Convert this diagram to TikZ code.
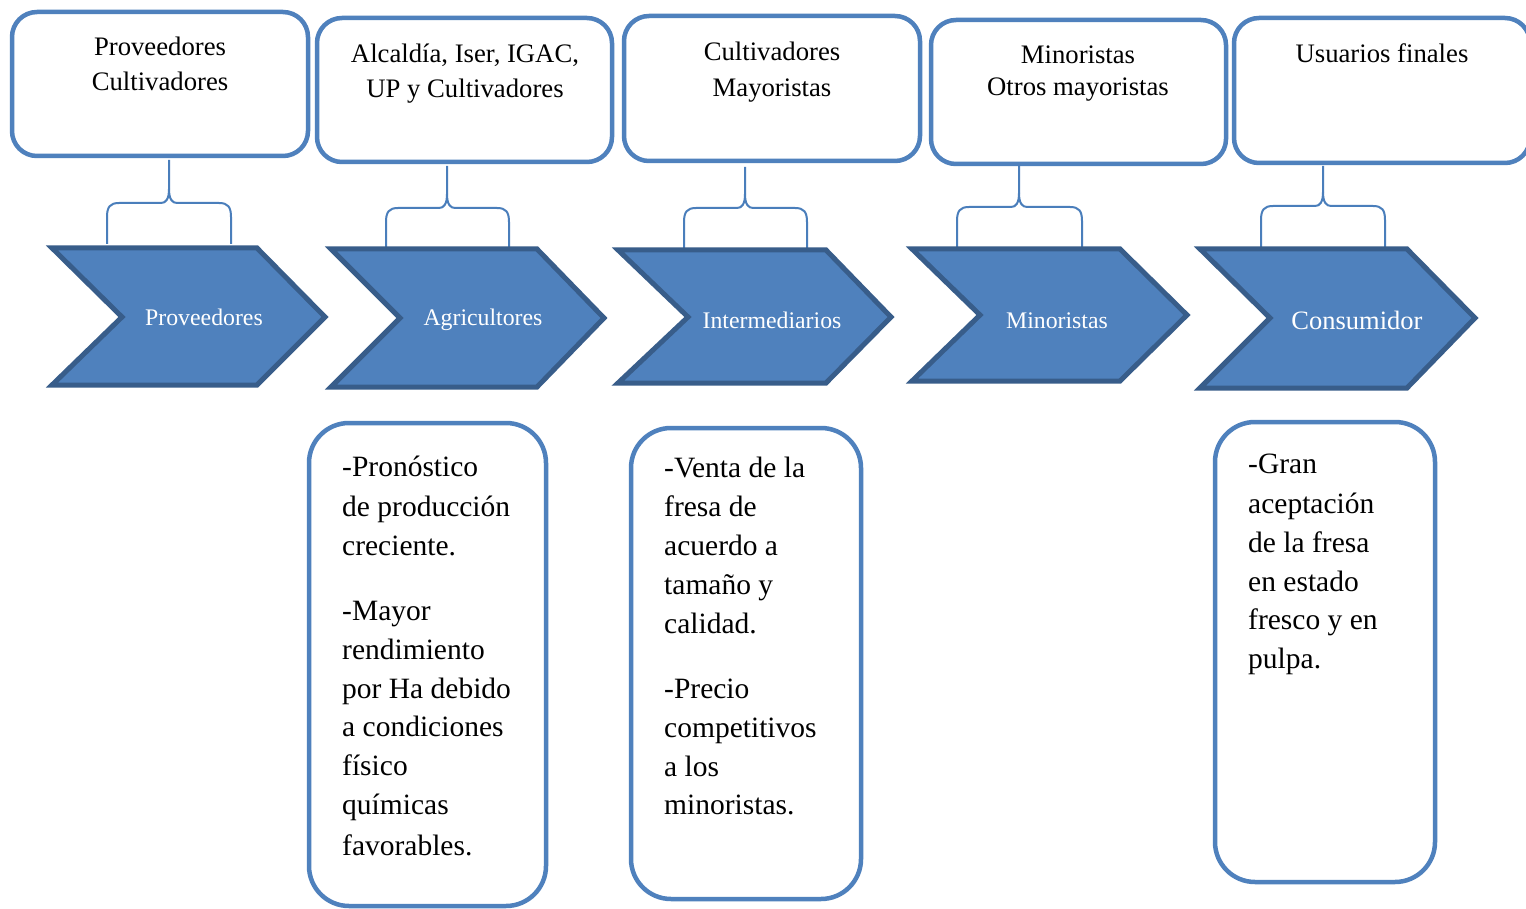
\documentclass[tikz,border=0pt]{standalone}
\usepackage{fontspec}
\setmainfont{Liberation Serif}
\definecolor{boxblue}{RGB}{79,129,189}
\definecolor{chevfill}{RGB}{79,129,189}
\definecolor{chevdark}{RGB}{56,93,138}
\definecolor{braceblue}{RGB}{74,126,187}
\newcommand\ftop{\fontsize{26.7}{35}\selectfont}
\newcommand\fchev{\fontsize{23.8}{28}\selectfont}
\newcommand\fbot{\fontsize{29.5}{39}\selectfont}
\newcommand\mybrace[6]{%
  \draw[bracel] (#4,#6) -- (#4,{#3+14}) .. controls (#4,{#3+4}) and ({#4+3},#3) .. ({#4+12},#3)
    -- ({#1-8},#3) .. controls ({#1-3},#3) and (#1,{#3-4}) .. (#1,{#3-14}) -- (#1,#2);
  \draw[bracel] (#5,#6) -- (#5,{#3+14}) .. controls (#5,{#3+4}) and ({#5-3},#3) .. ({#5-12},#3)
    -- ({#1+8},#3) .. controls ({#1+3},#3) and (#1,{#3-4}) .. (#1,{#3-14});
}
\newcommand\mychev[7]{% lx, rx, tipx, notchx, ty, midy, by
  \draw[chev] (#1,#5) -- (#2,#5) -- (#3,#6) -- (#2,#7) -- (#1,#7) -- (#4,#6) -- cycle;
}
\begin{document}
\begin{tikzpicture}[x=1pt,y=-1pt,
  topbox/.style={draw=boxblue, line width=4.5pt, rounded corners=25pt, fill=white, inner sep=0pt},
  botbox/.style={draw=boxblue, line width=4.5pt, rounded corners=40pt, fill=white, inner sep=0pt},
  chev/.style={fill=chevfill, draw=chevdark, line width=5pt, line join=miter},
  bracel/.style={draw=braceblue, line width=2pt},
  toptxt/.style={anchor=base, inner sep=0pt, font=\ftop, text=black},
  chevtxt/.style={anchor=base, inner sep=0pt, font=\fchev, text=white},
  bottxt/.style={anchor=base west, inner sep=0pt, font=\fbot, text=black}]
\useasboundingbox (0,0) rectangle (1526,909);
\fill[white] (0,0) rectangle (1526,909);

% top boxes
\node[topbox, minimum width=296pt, minimum height=144pt] (t1) at (160,84) {};
\node[topbox, minimum width=295pt, minimum height=144pt] (t2) at (464.5,90) {};
\node[topbox, minimum width=296pt, minimum height=145pt] (t3) at (772,88.5) {};
\node[topbox, minimum width=295pt, minimum height=144pt] (t4) at (1078.5,92) {};
\node[topbox, minimum width=296pt, minimum height=145pt] (t5) at (1382,90.5) {};

\node[toptxt] (t1a) at (160,56) {Proveedores};
\node[toptxt] (t1b) at (160,91) {Cultivadores};
\node[toptxt] (t2a) at (465,63) {Alcaldía, Iser, IGAC,};
\node[toptxt] (t2b) at (465,98) {UP y Cultivadores};
\node[toptxt] (t3a) at (772,61) {Cultivadores};
\node[toptxt] (t3b) at (772,97) {Mayoristas};
\node[toptxt] (t4a) at (1078,64) {Minoristas};
\node[toptxt] (t4b) at (1078,96) {Otros mayoristas};
\node[toptxt] (t5a) at (1382,63) {Usuarios finales};

% braces
\mybrace{169}{160}{203}{107}{231}{244}
\mybrace{447}{166}{208}{386}{509}{248}
\mybrace{745}{167}{208}{684}{807}{249}
\mybrace{1019}{165}{207}{957}{1082}{248}
\mybrace{1323}{166}{206}{1261}{1385}{248}

% chevrons
\mychev{52}{257}{325}{122}{248}{317}{385}
\mychev{331}{537}{604}{400}{249}{318}{387}
\mychev{618}{826}{891}{688}{250}{317}{383}
\mychev{912}{1120}{1187}{980}{249}{315}{381}
\mychev{1200}{1407}{1475}{1270}{249}{318}{388}

\node[chevtxt] (c1) at (204,326) {Proveedores};
\node[chevtxt] (c2) at (483,326) {Agricultores};
\node[chevtxt] (c3) at (772,328) {Intermediarios};
\node[chevtxt] (c4) at (1057,328) {Minoristas};
\node[chevtxt, font=\fontsize{26.5}{30}\selectfont] (c5) at (1357,330) {Consumidor};

% bottom boxes
\node[botbox, minimum width=237pt, minimum height=483pt] (bA) at (427.5,664.5) {};
\node[botbox, minimum width=230pt, minimum height=471pt] (bB) at (746,663.5) {};
\node[botbox, minimum width=220pt, minimum height=460pt] (bC) at (1325,652) {};

\node[bottxt] (a1) at (342,476) {-Pronóstico};
\node[bottxt] (a2) at (342,516) {de producción};
\node[bottxt] (a3) at (342,555) {creciente.};
\node[bottxt] (a4) at (342,620) {-Mayor};
\node[bottxt] (a5) at (342,659) {rendimiento};
\node[bottxt] (a6) at (342,698) {por Ha debido};
\node[bottxt] (a7) at (342,736) {a condiciones};
\node[bottxt] (a8) at (342,775) {físico};
\node[bottxt] (a9) at (342,814) {químicas};
\node[bottxt] (a10) at (342,855) {favorables.};

\node[bottxt] (b1) at (664,477) {-Venta de la};
\node[bottxt] (b2) at (664,516) {fresa de};
\node[bottxt] (b3) at (664,555) {acuerdo a};
\node[bottxt] (b4) at (664,594) {tamaño y};
\node[bottxt] (b5) at (664,633) {calidad.};
\node[bottxt] (b6) at (664,698) {-Precio};
\node[bottxt] (b7) at (664,737) {competitivos};
\node[bottxt] (b8) at (664,776) {a los};
\node[bottxt] (b9) at (664,814) {minoristas.};

\node[bottxt] (cc1) at (1248,473) {-Gran};
\node[bottxt] (cc2) at (1248,513) {aceptación};
\node[bottxt] (cc3) at (1248,552) {de la fresa};
\node[bottxt] (cc4) at (1248,591) {en estado};
\node[bottxt] (cc5) at (1248,629) {fresco y en};
\node[bottxt] (cc6) at (1248,668) {pulpa.};
\end{tikzpicture}
\end{document}
